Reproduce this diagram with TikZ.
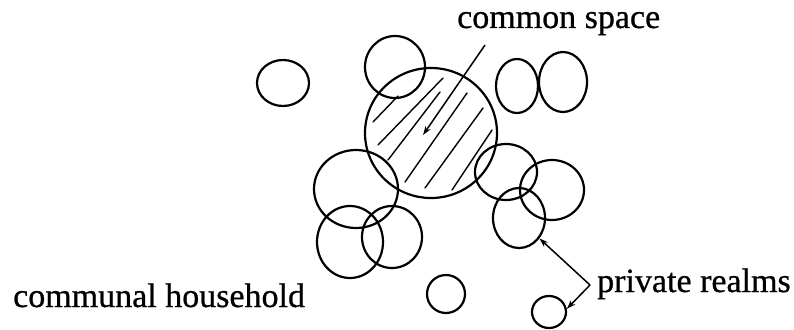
\documentclass[tikz,border=0pt]{standalone}
\usepackage{fontspec}
\setmainfont{Liberation Serif}
\newfontfamily\lblfont[FakeBold=0.7]{Liberation Serif}
\usetikzlibrary{shapes.geometric,arrows.meta}
\begin{document}
\begin{tikzpicture}[x=1pt,y=-1pt,
  ring/.style={draw, ellipse, inner sep=0pt, line width=2.2pt},
  lbl/.style={font=\lblfont\fontsize{34}{40}\selectfont, inner sep=0pt, anchor=base west},
  hatch/.style={line width=1.4pt, line cap=round},
  tip/.style={-{Stealth[length=9pt,width=6pt]}, line width=1.5pt}]
\useasboundingbox (0,0) rectangle (794,329);

% circles
\node[ring, minimum width=52pt, minimum height=46pt] (lone) at (283,83) {};
\node[ring, minimum width=60pt, minimum height=62pt] (top) at (395,67) {};
\node[ring, minimum width=132pt, minimum height=130pt] (big) at (431,133) {};
\node[ring, minimum width=84pt, minimum height=78pt] (lm) at (356,189) {};
\node[ring, minimum width=66pt, minimum height=72pt] (A) at (350,242) {};
\node[ring, minimum width=60pt, minimum height=62pt] (B) at (392,237) {};
\node[ring, minimum width=62pt, minimum height=56pt] (mr) at (506,172) {};
\node[ring, minimum width=52pt, minimum height=60pt] (C) at (519,218) {};
\node[ring, minimum width=64pt, minimum height=60pt] (D) at (552,190) {};
\node[ring, minimum width=42pt, minimum height=54pt] (tr1) at (517,86) {};
\node[ring, minimum width=48pt, minimum height=60pt] (tr2) at (563,82) {};
\node[ring, minimum width=38pt, minimum height=38pt] (s1) at (446,294) {};
\node[ring, minimum width=34pt, minimum height=32pt] (s2) at (549,312) {};

% hatching of the common space
\draw[hatch] (373,122) -- (398,96);
\draw[hatch] (378,145) -- (443,78);
\draw[hatch] (388,160) -- (440,92);
\draw[hatch] (405,182) -- (467,93);
\draw[hatch] (425,188) -- (483,108);
\draw[hatch] (452,190) -- (492,130);

% labels
\node[lbl] (cs) at (457,28) {common space};
\node[lbl] (pr) at (597,292) {private realms};
\node[lbl] (ch) at (13,307) {communal household};

% leaders
\coordinate (lead) at (485,45);
\coordinate (inner) at (423,135);
\draw[tip] (lead) -- (inner);
\coordinate (j) at (590,285);
\draw[tip] (j) -- (C.-45);
\draw[tip] (j) -- (s2.10);
\end{tikzpicture}
\end{document}
